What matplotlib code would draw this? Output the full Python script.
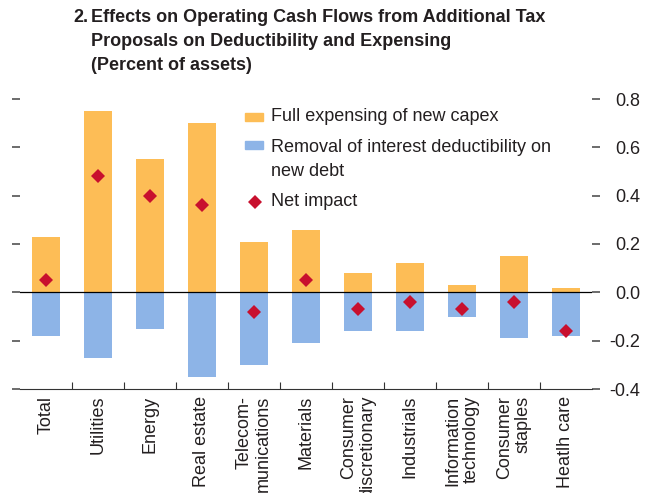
import numpy as np
import matplotlib
matplotlib.use("Agg")
import matplotlib.pyplot as plt
from matplotlib.patches import Rectangle

# data (percent of assets)
sectors = ["Total", "Utilities", "Energy", "Real estate", "Telecom-\nmunications",
           "Materials", "Consumer\ndiscretionary", "Industrials",
           "Information\ntechnology", "Consumer\nstaples", "Heatlh care"]
capex = [0.23, 0.75, 0.55, 0.70, 0.21, 0.26, 0.08, 0.12, 0.03, 0.15, 0.02]
interest = [-0.18, -0.27, -0.15, -0.35, -0.30, -0.21, -0.16, -0.16, -0.10, -0.19, -0.18]
net = [0.05, 0.48, 0.40, 0.36, -0.08, 0.05, -0.07, -0.04, -0.07, -0.04, -0.16]
yticks = [-0.4, -0.2, 0.0, 0.2, 0.4, 0.6, 0.8]

orange = "#FDBD56"
blue = "#8DB4E7"
red = "#C8102E"
txt = "#231F20"

plt.rcParams["font.family"] = ["Liberation Sans", "DejaVu Sans"]
plt.rcParams["font.size"] = 13

fig = plt.figure(figsize=(6.5, 4.93), dpi=100)
ax = fig.add_axes([20 / 650, 104 / 493, 572 / 650, 290 / 493])

x = np.arange(len(sectors))
ax.bar(x, capex, width=0.52, color=orange, zorder=2)
ax.bar(x, interest, width=0.52, color=blue, zorder=2)
ax.axhline(0, color="black", lw=0.9, zorder=3)
ax.plot(x, net, ls="none", marker="D", ms=7.5, mew=0, color=red, zorder=4)

ax.set_xlim(-0.5, len(sectors) - 0.5)
ax.set_ylim(-0.4, 0.8)

for s in ["left", "right", "top"]:
    ax.spines[s].set_visible(False)
ax.spines["bottom"].set_color("#333333")
ax.spines["bottom"].set_linewidth(0.8)

# y axis: ticks both sides, labels on the right, right-aligned
ax.set_yticks(yticks)
ax.set_yticklabels([f"{v:.1f}" for v in yticks])
ax.tick_params(axis="y", left=True, right=True, labelleft=False, labelright=True,
               direction="out", length=5.8, width=1.1, color="#444444",
               pad=29, labelcolor=txt, labelsize=13)
for t in ax.yaxis.get_major_ticks():
    t.label2.set_horizontalalignment("right")

# x axis: category labels rotated, small ticks between categories
ax.set_xticks(x)
ax.set_xticklabels(sectors, rotation=90, va="top", ha="center",
                   multialignment="right", color=txt, fontsize=13,
                   linespacing=1.15)
ax.tick_params(axis="x", which="major", length=0, pad=5)
ax.set_xticks(np.arange(0.5, len(sectors) - 0.5), minor=True)
ax.tick_params(axis="x", which="minor", direction="in", length=5.2,
               width=0.8, color="#333333")

# legend drawn by hand so the swatch sits on the first line of a wrapped label
lx, tx = 0.393, 0.439
rows = [0.938, 0.841, 0.645]
ax.add_patch(Rectangle((lx, rows[0] - 0.014), 0.032, 0.028, color=orange,
                       transform=ax.transAxes, clip_on=False))
ax.add_patch(Rectangle((lx, rows[1] - 0.014), 0.032, 0.028, color=blue,
                       transform=ax.transAxes, clip_on=False))
ax.plot([lx + 0.017], [rows[2]], ls="none", marker="D", ms=7.5, mew=0,
        color=red, transform=ax.transAxes, clip_on=False)
ax.text(tx, rows[0], "Full expensing of new capex", transform=ax.transAxes,
        va="center", ha="left", color=txt, fontsize=13)
ax.text(tx, rows[1] + 0.022, "Removal of interest deductibility on\nnew debt",
        transform=ax.transAxes, va="top", ha="left", color=txt, fontsize=13,
        linespacing=1.55)
ax.text(tx, rows[2], "Net impact", transform=ax.transAxes,
        va="center", ha="left", color=txt, fontsize=13)

fig.text(73 / 650, 1 - 9 / 493, "2.", weight="bold",
         fontsize=13, va="top", ha="left", color=txt)
fig.text(91 / 650, 1 - 9 / 493,
         "Effects on Operating Cash Flows from Additional Tax\n"
         "Proposals on Deductibility and Expensing\n(Percent of assets)",
         weight="bold", fontsize=13, va="top", ha="left",
         color=txt, linespacing=1.55)

fig.savefig("out.png", dpi=100)
